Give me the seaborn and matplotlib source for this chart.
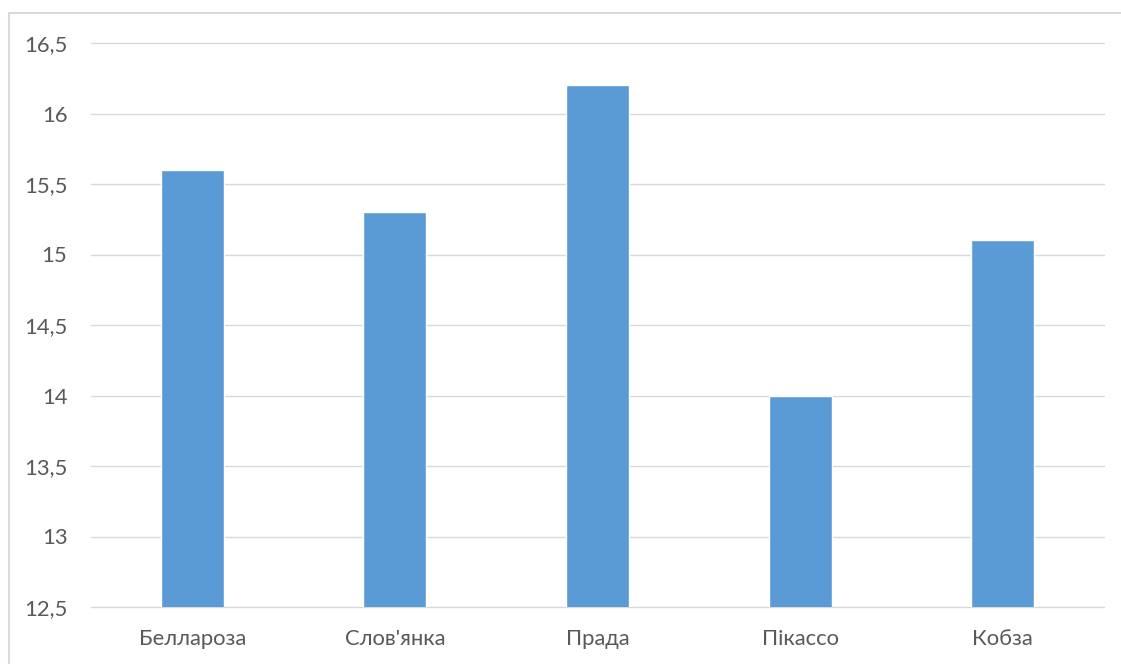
import matplotlib
matplotlib.use("Agg")
import matplotlib.pyplot as plt
import seaborn as sns
import pandas as pd
from matplotlib.patches import Rectangle

categories = ["Беллароза", "Слов'янка", "Прада", "Пікассо", "Кобза"]
values = [15.6, 15.3, 16.2, 14.0, 15.1]
yticks = [12.5, 13, 13.5, 14, 14.5, 15, 15.5, 16, 16.5]
ytick_labels = ["12,5", "13", "13,5", "14", "14,5", "15", "15,5", "16", "16,5"]

sns.set_theme(style="white")
plt.rcParams['font.family'] = ['Lato', 'DejaVu Sans']

W, H = 1121, 664
fig = plt.figure(figsize=(W / 100, H / 100), dpi=100)
ax = fig.add_axes([91 / W, 1 - 607 / H, (1104 - 91) / W, (607 - 43) / H])

df = pd.DataFrame({"cat": categories, "val": values})
sns.barplot(data=df, x="cat", y="val", color="#5B9BD5", width=0.31,
            saturation=1, ax=ax, zorder=3)

ax.set_ylim(12.5, 16.5)
ax.set_xlim(-0.5, len(categories) - 0.5)
ax.set_yticks(yticks)
ax.set_yticklabels(ytick_labels)
ax.set_xlabel("")
ax.set_ylabel("")
for s in ax.spines.values():
    s.set_visible(False)
ax.yaxis.grid(True, color="#D9D9D9", linewidth=1.0)
for gl in ax.get_ygridlines():
    gl.set_clip_on(False)
ax.set_axisbelow(True)
ax.tick_params(axis="both", length=0, labelsize=15.8, colors="#595959")
ax.tick_params(axis="y", pad=17)
ax.tick_params(axis="x", pad=16)
for lab in ax.get_yticklabels():
    lab.set_horizontalalignment("right")

fig.patches.append(Rectangle((8.5 / W, -0.1), 1.2, 1.1 - 13.5 / H,
                             transform=fig.transFigure, fill=False,
                             edgecolor="#D9D9D9", linewidth=1.5))

fig.savefig("out.png", dpi=100, facecolor="white")
